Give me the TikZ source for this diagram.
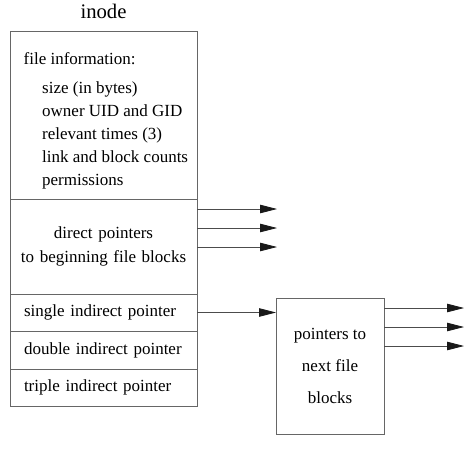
\documentclass[tikz,border=0pt]{standalone}
\usepackage{fontspec}
\setmainfont{Liberation Serif}
\usetikzlibrary{positioning,arrows.meta}
\tikzset{
  cell/.style={draw=black!60, line width=0.8pt, text width=159pt,
    inner xsep=14pt, inner ysep=0pt, outer sep=0pt, align=left,
    font=\fontsize{17}{23}\selectfont},
  ptr/.style={-{Triangle[length=17pt,width=8.5pt,color=black!90]},
    draw=black!70, line width=0.8pt},
}

\begin{document}
\begin{tikzpicture}[x=1pt,y=1pt]
  \useasboundingbox (0,0) rectangle (473,-452);

  % the inode, one cell below the other
  \node[cell, anchor=north west, minimum height=168pt] (info) at (10,-31) {};
  \node[above=12.3pt of info.north, inner sep=0pt,
    font=\fontsize{20.7}{24}\selectfont] (title) {inode};
  \node[below right=21.4pt and 13.5pt of info.north west, inner sep=0pt,
    align=left, font=\fontsize{17}{23}\selectfont] (infotext)
    {file information:\\[6pt]
     \hspace*{18.5pt}size (in bytes)\\
     \hspace*{18.5pt}owner UID and GID\\
     \hspace*{18.5pt}relevant times (3)\\
     \hspace*{18.5pt}link and block counts\\
     \hspace*{18.5pt}permissions};
  \node[cell, below=0pt of info, minimum height=95pt, text width=181pt,
    inner xsep=3pt, align=center, font=\fontsize{17}{24}\selectfont] (direct)
    {direct pointers\\to beginning file blocks};
  \node[cell, below=0pt of direct, minimum height=37pt] (single) {single indirect pointer};
  \node[cell, below=0pt of single, minimum height=38pt] (double) {double indirect pointer};
  \node[cell, below=0pt of double, minimum height=37pt] (triple) {triple indirect pointer};

  % block of pointers
  \node[draw=black!60, line width=0.8pt, minimum width=108pt, minimum height=136pt,
    outer sep=0pt, align=center, font=\fontsize{17}{32}\selectfont,
    anchor=north west] (blocks) at ([xshift=79pt, yshift=14.5pt]single.east)
    {pointers to\\next file\\blocks};

  % pointers
  \foreach \dy [count=\i] in {37.5,18.5,-0.5} {
    \coordinate (dend\i) at ([xshift=80pt, yshift=\dy pt]direct.east);
    \draw[ptr] ([yshift=\dy pt]direct.east) -- (dend\i);
  }
  \draw[ptr] (single.east) -- (single.east -| blocks.west);
  \foreach \dy [count=\i] in {10,29,48} {
    \coordinate (bend\i) at ([xshift=80pt, yshift=-\dy pt]blocks.north east);
    \draw[ptr] ([yshift=-\dy pt]blocks.north east) -- (bend\i);
  }
\end{tikzpicture}
\end{document}
